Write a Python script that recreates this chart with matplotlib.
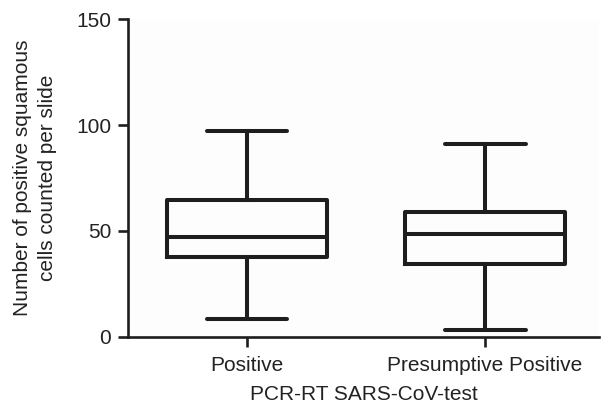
import matplotlib.pyplot as plt

plt.rcParams['font.family'] = ['Liberation Sans', 'DejaVu Sans']

categories = ['Positive', 'Presumptive Positive']
whislo = [8.2, 3.2]
q1 = [37.8, 34.3]
med = [47.2, 48.5]
q3 = [64.6, 59.0]
whishi = [97.2, 91.0]

stats = []
for i, name in enumerate(categories):
    stats.append({'label': name, 'whislo': whislo[i], 'q1': q1[i], 'med': med[i],
                  'q3': q3[i], 'whishi': whishi[i], 'fliers': []})

fig = plt.figure(figsize=(6.02, 4.09), dpi=100)
ax = fig.add_axes([0.2126, 0.1768, 0.783, 0.776])
ax.set_facecolor('#fdfdfd')

lc = '#1e1e1e'
tc = '#222222'
lw = 2.9
ax.bxp(stats, positions=[1, 2], widths=0.67, showfliers=False,
       boxprops=dict(color=lc, linewidth=lw),
       medianprops=dict(color=lc, linewidth=lw),
       whiskerprops=dict(color=lc, linewidth=lw),
       capprops=dict(color=lc, linewidth=lw, solid_capstyle='round'),
       capwidths=0.34)

ax.set_xlim(0.5, 2.48)
ax.set_ylim(0, 150)
ax.set_yticks([0, 50, 100, 150])
for s in ['top', 'right']:
    ax.spines[s].set_visible(False)
for s in ['left', 'bottom']:
    ax.spines[s].set_linewidth(1.9)
    ax.spines[s].set_color(lc)
ax.tick_params(axis='both', length=7, width=1.9, color=lc, labelsize=15, labelcolor=tc)
ax.tick_params(axis='x', pad=7)
ax.tick_params(axis='y', pad=5)
ax.set_xlabel('PCR-RT SARS-CoV-test', fontsize=15, color=tc, labelpad=7)
ax.set_ylabel('Number of positive squamous\ncells counted per slide', fontsize=15,
              color=tc, labelpad=14, linespacing=1.4)

fig.savefig('out.png', dpi=100)
